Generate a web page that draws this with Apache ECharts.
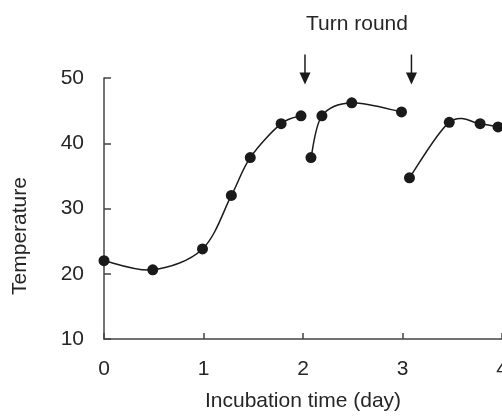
<!DOCTYPE html>
<html>
<head>
<meta charset="utf-8">
<script src="https://cdn.jsdelivr.net/npm/echarts@6/dist/echarts.min.js"></script>
<style>html,body{margin:0;padding:0;background:#fff;}#c{width:502px;height:416px;}</style>
</head>
<body>
<div id="c"></div>
<script>
// Data
const seg1X = [0, 0.49, 0.99, 1.28, 1.47, 1.78, 1.98];
const seg1Y = [22.0, 20.6, 23.8, 32.0, 37.8, 43.0, 44.2];
const seg2X = [2.08, 2.19, 2.49, 2.99];
const seg2Y = [37.8, 44.2, 46.2, 44.8];
const seg3X = [3.07, 3.47, 3.78, 3.96];
const seg3Y = [34.7, 43.2, 43.0, 42.5];
const arrowX = [2.02, 3.09];
const arrowTop = [53.6, 53.6];
const arrowTip = [49.0, 49.0];
const xTicks = [0, 1, 2, 3, 4];
const yTicks = [10, 20, 30, 40, 50];
const xName = 'Incubation time (day)';
const yName = 'Temperature';
const noteText = 'Turn round';

const FONT = 'Liberation Sans, Arial, Helvetica, sans-serif';
const INK = '#1a1a1a';
const TXT = '#262626';

function pairs(xs, ys) { return xs.map((x, i) => [x, ys[i]]); }

// Smooth curve (Catmull-Rom through the data points, in pixel space via api.coord)
function curveSeries(xs, ys) {
  const data = pairs(xs, ys);
  return {
    type: 'custom',
    clip: false,
    data: data,
    encode: { x: 0, y: 1 },
    z: 2,
    silent: true,
    renderItem: function (params, api) {
      if (params.dataIndex !== 0) return null;
      const P = data.map(d => api.coord(d));
      const n = P.length;
      const tan = P.map((p, i) => {
        const a = P[Math.max(0, i - 1)], b = P[Math.min(n - 1, i + 1)];
        return [(b[0] - a[0]) / 2, (b[1] - a[1]) / 2];
      });
      let d = 'M' + P[0][0] + ' ' + P[0][1];
      for (let i = 0; i < n - 1; i++) {
        const c1 = [P[i][0] + tan[i][0] / 3, P[i][1] + tan[i][1] / 3];
        const c2 = [P[i + 1][0] - tan[i + 1][0] / 3, P[i + 1][1] - tan[i + 1][1] / 3];
        d += ' C' + c1[0] + ' ' + c1[1] + ' ' + c2[0] + ' ' + c2[1] + ' ' + P[i + 1][0] + ' ' + P[i + 1][1];
      }
      return {
        type: 'path',
        shape: { pathData: d },
        style: { stroke: INK, fill: null, lineWidth: 1.5 }
      };
    }
  };
}

function pointSeries(xs, ys) {
  return {
    type: 'scatter',
    data: pairs(xs, ys),
    symbol: 'circle',
    symbolSize: 11,
    itemStyle: { color: INK, opacity: 1 },
    emphasis: { disabled: true },
    clip: false,
    z: 4
  };
}

const chart = echarts.init(document.getElementById('c'), null, { renderer: 'canvas' });
chart.setOption({
  animation: false,
  backgroundColor: '#fff',
  grid: { left: 104, right: 0, top: 78, bottom: 77, containLabel: false, outerBoundsMode: 'none' },
  xAxis: {
    type: 'value',
    min: xTicks[0], max: xTicks[xTicks.length - 1], interval: 1,
    name: xName, nameLocation: 'middle', nameGap: 52,
    nameTextStyle: { fontFamily: FONT, fontSize: 21, color: TXT },
    axisLine: { show: true, onZero: false, lineStyle: { color: '#444', width: 1.5 } },
    axisTick: { show: true, inside: true, length: 6, lineStyle: { color: '#444', width: 1.5 } },
    axisLabel: { fontFamily: FONT, fontSize: 21, color: TXT, margin: 20 },
    splitLine: { show: false }
  },
  yAxis: {
    type: 'value',
    min: yTicks[0], max: yTicks[yTicks.length - 1], interval: 10,
    axisLine: { show: true, onZero: false, lineStyle: { color: '#444', width: 1.5 } },
    axisTick: { show: true, inside: true, length: 7, lineStyle: { color: '#444', width: 1.5 } },
    axisLabel: { fontFamily: FONT, fontSize: 21, color: TXT, margin: 20 },
    splitLine: { show: false }
  },
  series: [
    curveSeries(seg1X, seg1Y),
    curveSeries(seg2X, seg2Y),
    curveSeries(seg3X, seg3Y),
    pointSeries(seg1X, seg1Y),
    pointSeries(seg2X, seg2Y),
    pointSeries(seg3X, seg3Y),
    {
      type: 'custom',
      clip: false,
      silent: true,
      data: arrowX.map((x, i) => [x, arrowTop[i], arrowTip[i]]),
      encode: { x: 0, y: [1, 2] },
      renderItem: function (params, api) {
        const x = api.value(0);
        const top = api.coord([x, api.value(1)]);
        const tip = api.coord([x, api.value(2)]);
        const headLen = 12, headHalf = 5.5;
        return {
          type: 'group',
          children: [
            { type: 'line', shape: { x1: top[0], y1: top[1], x2: tip[0], y2: tip[1] - headLen + 1 },
              style: { stroke: INK, lineWidth: 1.5 } },
            { type: 'polygon', shape: { points: [[tip[0] - headHalf, tip[1] - headLen], [tip[0] + headHalf, tip[1] - headLen], [tip[0], tip[1]]] },
              style: { fill: INK } }
          ]
        };
      }
    }
  ],
  graphic: [
    { type: 'text', x: 20, y: 236, rotation: Math.PI / 2,
      style: { text: yName, fontFamily: FONT, fontSize: 21, fill: TXT, align: 'center', verticalAlign: 'middle' } },
    { type: 'text', x: 357, y: 24,
      style: { text: noteText, fontFamily: FONT, fontSize: 21, fill: TXT, align: 'center', verticalAlign: 'middle' } }
  ]
});
</script>
</body>
</html>
